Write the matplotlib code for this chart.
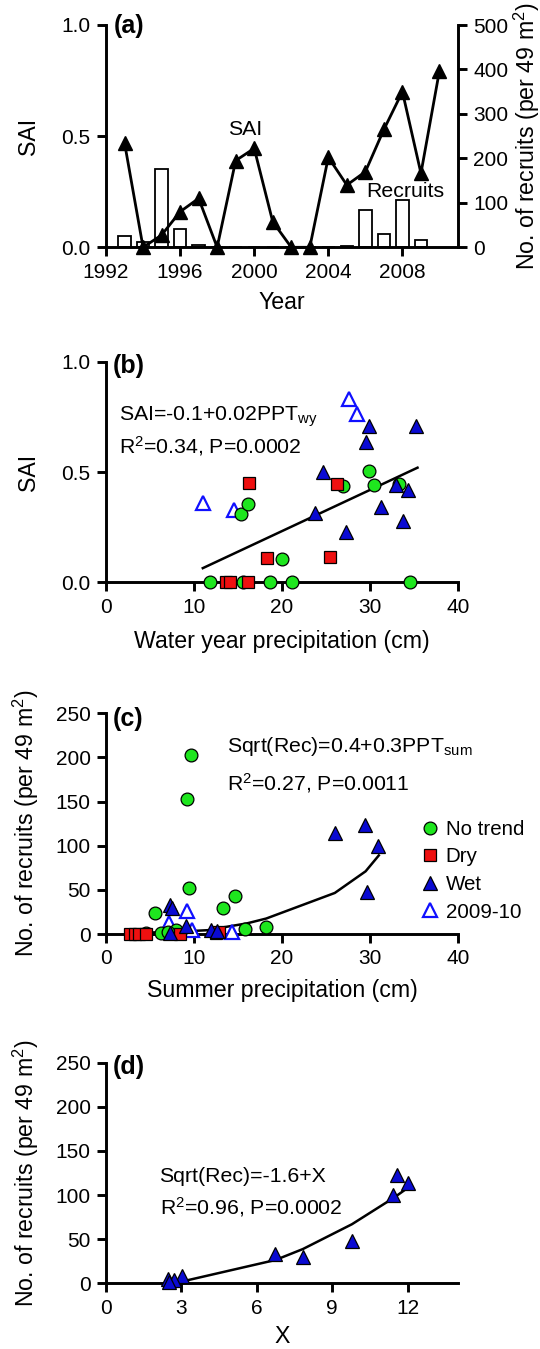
import numpy as np
import matplotlib
matplotlib.use("Agg")
import matplotlib.pyplot as plt

plt.rcParams['font.family'] = ['Liberation Sans', 'DejaVu Sans']
plt.rcParams['mathtext.fontset'] = 'custom'
plt.rcParams['mathtext.rm'] = 'Liberation Sans'
plt.rcParams['mathtext.it'] = 'Liberation Sans:italic'
plt.rcParams['mathtext.bf'] = 'Liberation Sans:bold'

# ---------------- data ----------------
# (a) time series
years = [1993, 1994, 1995, 1996, 1997, 1998, 1999, 2000, 2001, 2002,
         2003, 2004, 2005, 2006, 2007, 2008, 2009, 2010]
sai = [0.47, 0.0, 0.055, 0.16, 0.22, 0.0, 0.39, 0.445, 0.115, 0.0,
       0.0, 0.405, 0.28, 0.34, 0.53, 0.70, 0.333, 0.795]
recruits = [25.5, 12.5, 176, 40.5, 6, 0, 0, 0, 0, 0,
            0, 0, 3.5, 84, 30, 106, 16.5, np.nan]

# (b) SAI vs water year precipitation
nt_b_x = [11.8, 15.6, 18.6, 21.1, 34.6, 15.3, 16.1, 20.0, 26.9, 29.9, 30.5, 33.3]
nt_b_y = [0, 0, 0, 0, 0, 0.31, 0.355, 0.105, 0.435, 0.505, 0.44, 0.445]
dry_b_x = [13.6, 14.1, 16.1, 16.2, 18.3, 25.5, 26.2]
dry_b_y = [0, 0, 0, 0.45, 0.11, 0.115, 0.447]
wet_b_x = [29.9, 35.2, 29.5, 24.7, 32.9, 34.3, 31.2, 33.8, 27.3, 23.8]
wet_b_y = [0.71, 0.71, 0.635, 0.50, 0.44, 0.42, 0.34, 0.28, 0.23, 0.315]
new_b_x = [11.0, 14.5, 27.6, 28.5]
new_b_y = [0.36, 0.33, 0.83, 0.765]
fit_b_x = [11.0, 35.4]
fit_b_y = [0.065, 0.52]

# (c) recruits vs summer precipitation
nt_c_x = [9.7, 9.2, 9.4, 14.7, 13.3, 5.6, 15.8, 18.2, 4.6, 6.3, 8.0, 7.0]
nt_c_y = [203, 153, 52, 43, 29.5, 24, 6, 8, 1, 1, 5, 2]
dry_c_x = [2.7, 3.3, 3.8, 4.6, 8.4, 12.5, 12.8]
dry_c_y = [0, 0, 0, 0, 0.5, 1, 2]
wet_c_x = [26.0, 29.4, 30.9, 29.7, 7.3, 7.5, 9.1, 11.9, 12.6, 7.3]
wet_c_y = [114, 123, 100, 48, 33, 29.5, 8.7, 4.5, 3.8, 1]
new_c_x = [9.2, 7.2, 9.8, 14.3]
new_c_y = [26.5, 12, 4, 2.6]
fit_c_x = [2.7, 8.0, 11.9, 13.3, 16.0, 18.2, 26.0, 29.5, 31.0]
fit_c_y = [1, 2.5, 4.5, 7.5, 12, 17.5, 46.5, 71, 89]

# (d) recruits vs X (wet plots)
x_d = [11.57, 12.03, 11.43, 9.78, 6.74, 7.83, 3.02, 2.47, 2.72, 2.5]
y_d = [122.7, 114, 100, 48, 33, 29.5, 8.7, 4.5, 3.8, 1]
fit_d_b0 = -1.6
fit_d_b1 = 1.0

# ---------------- style ----------------
GREEN = '#1ee61e'
RED = '#ee1010'
BLUE = '#0a0ad2'
OPENBLUE = '#1010ff'
TFS = 15      # tick labels
LFS = 16.7    # axis labels
AFS = 15.3    # annotations
PFS = 18      # panel letters
LW = 2.1

fig = plt.figure(figsize=(5.4, 13.49), dpi=100)
L = 106 / 540
W = 352 / 540
H = 1349.0


def add_ax(top_px, bot_px):
    return fig.add_axes([L, 1 - bot_px / H, W, (bot_px - top_px) / H])


def style(ax):
    for s in ['top', 'right']:
        ax.spines[s].set_visible(False)
    for s in ['left', 'bottom']:
        ax.spines[s].set_linewidth(LW)
    ax.tick_params(direction='out', length=6.5, width=LW, labelsize=TFS, pad=4.5)


def ylab(ax, text, x):
    ax.set_ylabel(text, fontsize=LFS)
    ax.yaxis.set_label_coords(x, 0.5)
    ax.yaxis.label.set_va('center')


def xlab(ax, text, y):
    ax.set_xlabel(text, fontsize=LFS)
    ax.xaxis.set_label_coords(0.5, y)
    ax.xaxis.label.set_va('center')


ax_a = add_ax(25, 247.3)
ax_b = add_ax(361.7, 582.5)
ax_c = add_ax(713.3, 934)
ax_d = add_ax(1062.7, 1283.3)

# ---------------- (a) ----------------
ax_a2 = ax_a.twinx()
style(ax_a)
for s in ['top', 'left', 'bottom']:
    ax_a2.spines[s].set_visible(False)
ax_a2.spines['right'].set_linewidth(LW)
ax_a2.tick_params(direction='out', length=6.5, width=LW, labelsize=TFS, pad=4.5)
ax_a2.bar(years, recruits, width=0.67, facecolor='white', edgecolor='black',
          linewidth=1.3, zorder=2)
ax_a2.set_ylim(0, 500)
ax_a2.set_yticks([0, 100, 200, 300, 400, 500])
ax_a.set_zorder(ax_a2.get_zorder() + 1)
ax_a.patch.set_visible(False)
ax_a.plot(years, sai, color='black', lw=2.0, marker='^', ms=10,
          mfc='black', mec='black', clip_on=False, zorder=3)
ax_a.set_xlim(1992, 2011)
ax_a.set_ylim(0, 1.0)
ax_a.set_xticks([1992, 1996, 2000, 2004, 2008])
ax_a.set_yticks([0.0, 0.5, 1.0])
ax_a.set_yticklabels(['0.0', '0.5', '1.0'])
ylab(ax_a, 'SAI', -0.219)
xlab(ax_a, 'Year', -0.25)
ylab(ax_a2, 'No. of recruits (per 49 m$\\mathregular{^2}$)', 1.195)
ax_a.text(1992.43, 0.965, '(a)', fontsize=PFS, fontweight='bold', ha='left', va='baseline')
ax_a.text(1999.53, 0.505, 'SAI', fontsize=AFS, ha='center', va='baseline')
ax_a.text(2008.13, 0.228, 'Recruits', fontsize=AFS, ha='center', va='baseline')


def scatter_groups(ax, nt, dry, wet, new):
    h_new, = ax.plot(new[0], new[1], ls='none', marker='^', ms=9.5, mfc='white',
                     mec=OPENBLUE, mew=1.6, clip_on=False, zorder=3)
    h_nt, = ax.plot(nt[0], nt[1], ls='none', marker='o', ms=9.2, mfc=GREEN,
                    mec='black', mew=0.9, clip_on=False, zorder=4)
    h_dry, = ax.plot(dry[0], dry[1], ls='none', marker='s', ms=8.2, mfc=RED,
                     mec='black', mew=0.9, clip_on=False, zorder=5)
    h_wet, = ax.plot(wet[0], wet[1], ls='none', marker='^', ms=9.5, mfc=BLUE,
                     mec='black', mew=0.9, clip_on=False, zorder=6)
    return h_nt, h_dry, h_wet, h_new


# ---------------- (b) ----------------
style(ax_b)
ax_b.plot(fit_b_x, fit_b_y, color='black', lw=1.8, zorder=2)
scatter_groups(ax_b, (nt_b_x, nt_b_y), (dry_b_x, dry_b_y),
               (wet_b_x, wet_b_y), (new_b_x, new_b_y))
ax_b.set_xlim(0, 40)
ax_b.set_ylim(0, 1.0)
ax_b.set_xticks([0, 10, 20, 30, 40])
ax_b.set_yticks([0.0, 0.5, 1.0])
ax_b.set_yticklabels(['0.0', '0.5', '1.0'])
ylab(ax_b, 'SAI', -0.219)
xlab(ax_b, 'Water year precipitation (cm)', -0.265)
ax_b.text(0.79, 0.947, '(b)', fontsize=PFS, fontweight='bold', ha='left', va='baseline')
ax_b.text(1.45, 0.732, 'SAI=-0.1+0.02PPT$\\mathregular{_{wy}}$', fontsize=AFS,
          ha='left', va='baseline')
ax_b.text(1.45, 0.583, 'R$\\mathregular{^2}$=0.34, P=0.0002', fontsize=AFS,
          ha='left', va='baseline')

# ---------------- (c) ----------------
style(ax_c)
ax_c.plot(fit_c_x, fit_c_y, color='black', lw=1.8, zorder=2)
h_nt, h_dry, h_wet, h_new = scatter_groups(
    ax_c, (nt_c_x, nt_c_y), (dry_c_x, dry_c_y),
    (wet_c_x, wet_c_y), (new_c_x, new_c_y))
ax_c.set_xlim(0, 40)
ax_c.set_ylim(0, 250)
ax_c.set_xticks([0, 10, 20, 30, 40])
ax_c.set_yticks([0, 50, 100, 150, 200, 250])
ylab(ax_c, 'No. of recruits (per 49 m$\\mathregular{^2}$)', -0.227)
xlab(ax_c, 'Summer precipitation (cm)', -0.257)
ax_c.text(0.79, 235.6, '(c)', fontsize=PFS, fontweight='bold', ha='left', va='baseline')
ax_c.text(13.71, 206.5, 'Sqrt(Rec)=0.4+0.3PPT$\\mathregular{_{sum}}$', fontsize=AFS,
          ha='left', va='baseline')
ax_c.text(13.71, 162.4, 'R$\\mathregular{^2}$=0.27, P=0.0011', fontsize=AFS,
          ha='left', va='baseline')
ax_c.legend([h_nt, h_dry, h_wet, h_new], ['No trend', 'Dry', 'Wet', '2009-10'],
            loc='center left', bbox_to_anchor=(422 / 540, 1 - 870.7 / H),
            bbox_transform=fig.transFigure, frameon=False, borderpad=0,
            borderaxespad=0, handlelength=0.8, handletextpad=0.35,
            labelspacing=0.42, fontsize=14.8, numpoints=1)

# ---------------- (d) ----------------
style(ax_d)
xs = np.sort(np.array(x_d))
ax_d.plot(xs, (fit_d_b0 + fit_d_b1 * xs) ** 2, color='black', lw=1.8, zorder=2)
ax_d.plot(x_d, y_d, ls='none', marker='^', ms=9.5, mfc=BLUE, mec='black',
          mew=0.9, clip_on=False, zorder=6)
ax_d.set_xlim(0, 14)
ax_d.set_ylim(0, 250)
ax_d.set_xticks([0, 3, 6, 9, 12])
ax_d.set_yticks([0, 50, 100, 150, 200, 250])
ylab(ax_d, 'No. of recruits (per 49 m$\\mathregular{^2}$)', -0.227)
xlab(ax_d, 'X', -0.24)
ax_d.text(0.28, 236.8, '(d)', fontsize=PFS, fontweight='bold', ha='left', va='baseline')
ax_d.text(2.13, 114.8, 'Sqrt(Rec)=-1.6+X', fontsize=AFS, ha='left', va='baseline')
ax_d.text(2.13, 78.5, 'R$\\mathregular{^2}$=0.96, P=0.0002', fontsize=AFS,
          ha='left', va='baseline')

fig.savefig('out.png', dpi=100)
